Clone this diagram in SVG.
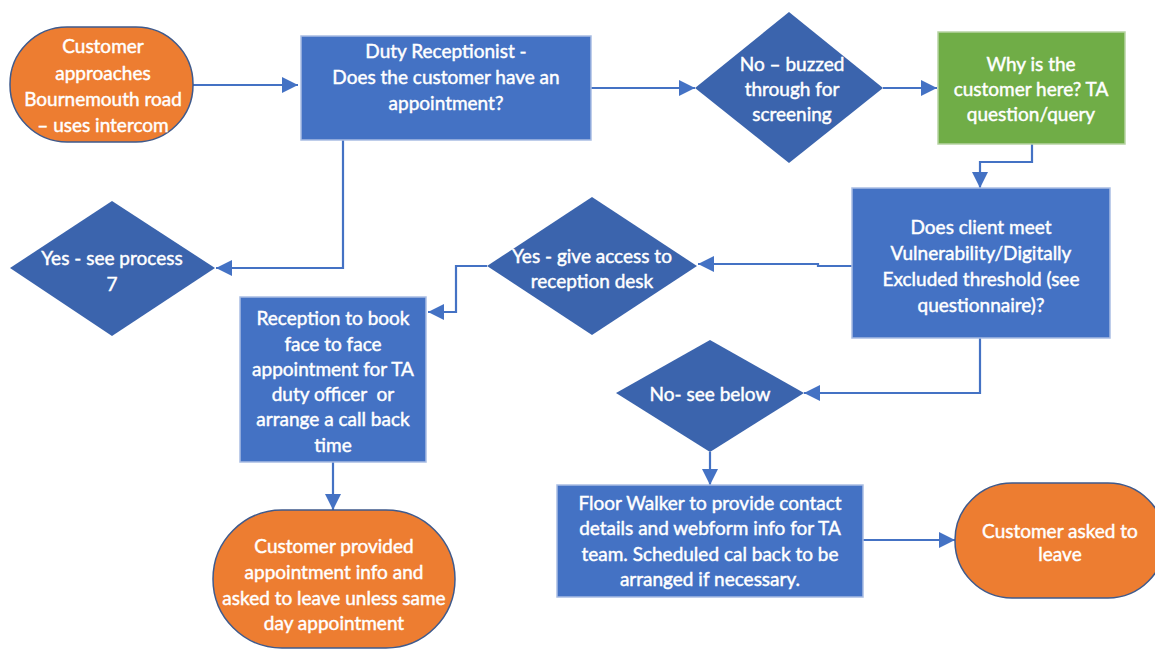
<svg xmlns="http://www.w3.org/2000/svg" width="1155" height="652" viewBox="0 0 1155 652">
  <style>
    .proc { fill: #4472C4; stroke: #a9bde3; stroke-width: 1.5; }
    .green { fill: #70AD47; stroke: #b7d3a3; stroke-width: 1.5; }
    .term { fill: #ED7D31; stroke: #3f5a8c; stroke-width: 1.5; }
    .dec { fill: #3B64AD; stroke: none; }
    .lbl { font-family: Lato, "Open Sans", sans-serif; font-size: 19px; fill: #ffffff; stroke: #ffffff; stroke-width: 0.45; text-anchor: middle; dominant-baseline: central; }
    .conn { fill: none; stroke: #4472C4; stroke-width: 2.2; marker-end: url(#arrow); }
  </style>
  <defs>
    <marker id="arrow" viewBox="0 0 10 10" refX="10" refY="5" markerUnits="userSpaceOnUse" markerWidth="16" markerHeight="17" orient="auto">
      <path d="M0,0 L10,5 L0,10 z" fill="#4472C4"/>
    </marker>
  </defs>
  <rect width="1155" height="652" fill="#ffffff"/>

  <!-- connectors -->
  <g id="connectors">
    <path class="conn" d="M193,85 L298,85"/>
    <path class="conn" d="M591,88 L695,88"/>
    <path class="conn" d="M883,88 L937,88"/>
    <path class="conn" d="M1032,144 L1032,162 L980,162 L980,188"/>
    <path class="conn" d="M343,140 L343,268 L216,268"/>
    <path class="conn" d="M852,266 L818,266 L818,264 L698,264"/>
    <path class="conn" d="M487,266 L456,266 L456,312 L428,312"/>
    <path class="conn" d="M333,462 L333,510"/>
    <path class="conn" d="M980,338 L980,393 L804,393"/>
    <path class="conn" d="M710,452 L710,485"/>
    <path class="conn" d="M863,540 L955,540"/>
  </g>

  <!-- start: customer arrives -->
  <g id="start">
    <rect class="term" x="10" y="27" width="183" height="115" rx="57" ry="57"/>
    <text class="lbl" x="103" y="45">Customer</text>
    <text class="lbl" x="103" y="72">approaches</text>
    <text class="lbl" x="103" y="98">Bournemouth road</text>
    <text class="lbl" x="103" y="124">– uses intercom</text>
  </g>

  <g id="receptionist">
    <rect class="proc" x="301" y="36" width="290" height="104"/>
    <text class="lbl" x="446" y="50">Duty Receptionist -</text>
    <text class="lbl" x="446" y="76">Does the customer have an</text>
    <text class="lbl" x="446" y="102">appointment?</text>
  </g>

  <g id="no-buzzed">
    <polygon class="dec" points="789,12 883,88 789,163 695,88"/>
    <text class="lbl" x="792" y="63">No – buzzed</text>
    <text class="lbl" x="792" y="88">through for</text>
    <text class="lbl" x="792" y="113">screening</text>
  </g>

  <g id="why-here">
    <rect class="green" x="938" y="32" width="187" height="112"/>
    <text class="lbl" x="1031" y="63">Why is the</text>
    <text class="lbl" x="1031" y="88">customer here? TA</text>
    <text class="lbl" x="1031" y="113">question/query</text>
  </g>

  <g id="yes-process-7">
    <polygon class="dec" points="112,201 215,268 112,336 10,268"/>
    <text class="lbl" x="112" y="257">Yes - see process</text>
    <text class="lbl" x="112" y="283">7</text>
  </g>

  <g id="threshold">
    <rect class="proc" x="852" y="188" width="258" height="150"/>
    <text class="lbl" x="981" y="226">Does client meet</text>
    <text class="lbl" x="981" y="252">Vulnerability/Digitally</text>
    <text class="lbl" x="981" y="278">Excluded threshold (see</text>
    <text class="lbl" x="981" y="304">questionnaire)?</text>
  </g>

  <g id="yes-desk">
    <polygon class="dec" points="592,197 697,266 592,335 487,266"/>
    <text class="lbl" x="592" y="255">Yes - give access to</text>
    <text class="lbl" x="592" y="280">reception desk</text>
  </g>

  <g id="book-appointment">
    <rect class="proc" x="240" y="297" width="186" height="165"/>
    <text class="lbl" x="333" y="317">Reception to book</text>
    <text class="lbl" x="333" y="343">face to face</text>
    <text class="lbl" x="333" y="368">appointment for TA</text>
    <text class="lbl" x="333" y="393" xml:space="preserve">duty officer  or</text>
    <text class="lbl" x="333" y="418">arrange a call back</text>
    <text class="lbl" x="333" y="444">time</text>
  </g>

  <g id="appointment-info">
    <rect class="term" x="213" y="510" width="242" height="138" rx="69" ry="69"/>
    <text class="lbl" x="334" y="545">Customer provided</text>
    <text class="lbl" x="334" y="571">appointment info and</text>
    <text class="lbl" x="334" y="597">asked to leave unless same</text>
    <text class="lbl" x="334" y="622">day appointment</text>
  </g>

  <g id="no-below">
    <polygon class="dec" points="710,340 804,393 710,452 616,393"/>
    <text class="lbl" x="710" y="393">No- see below</text>
  </g>

  <g id="floor-walker">
    <rect class="proc" x="557" y="485" width="306" height="112"/>
    <text class="lbl" x="710" y="502">Floor Walker to provide contact</text>
    <text class="lbl" x="710" y="527">details and webform info for TA</text>
    <text class="lbl" x="710" y="553">team. Scheduled cal back to be</text>
    <text class="lbl" x="710" y="578">arranged if necessary.</text>
  </g>

  <g id="asked-to-leave">
    <rect class="term" x="955" y="483" width="210" height="115" rx="57" ry="57"/>
    <text class="lbl" x="1060" y="530">Customer asked to</text>
    <text class="lbl" x="1060" y="553">leave</text>
  </g>
</svg>
